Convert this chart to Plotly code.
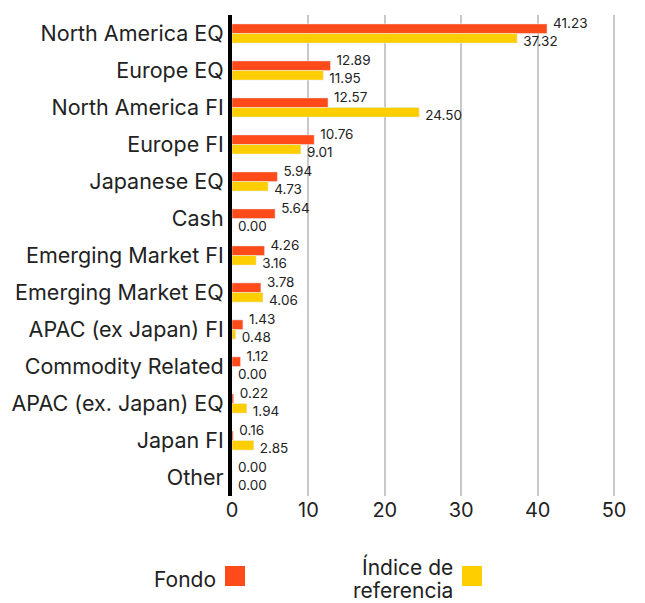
import plotly.graph_objects as go

categories = ["North America EQ", "Europe EQ", "North America FI", "Europe FI",
              "Japanese EQ", "Cash", "Emerging Market FI", "Emerging Market EQ",
              "APAC (ex Japan) FI", "Commodity Related", "APAC (ex. Japan) EQ",
              "Japan FI", "Other"]
fondo = [41.23, 12.89, 12.57, 10.76, 5.94, 5.64, 4.26, 3.78, 1.43, 1.12, 0.22, 0.16, 0.00]
indice = [37.32, 11.95, 24.50, 9.01, 4.73, 0.00, 3.16, 4.06, 0.48, 0.00, 1.94, 2.85, 0.00]
x_ticks = [0, 10, 20, 30, 40, 50]

ORANGE = "#FF4A1A"
YELLOW = "#FFCE00"
FONT = "Inter"
NB = "\u00a0"

fig = go.Figure()
fig.add_trace(go.Bar(y=categories, x=fondo, orientation="h", marker_color=ORANGE,
                     name="Fondo", showlegend=False))
fig.add_trace(go.Bar(y=categories, x=indice, orientation="h", marker_color=YELLOW,
                     name="Índice de referencia", showlegend=False))
fig.add_trace(go.Scatter(y=categories, x=fondo, mode="markers+text",
                         marker=dict(size=2, opacity=0),
                         text=[NB + f"{v:.2f}" for v in fondo], textposition="top right",
                         textfont=dict(family=FONT, size=13.5, color="#222"),
                         showlegend=False, hoverinfo="skip", cliponaxis=False))
fig.add_trace(go.Scatter(y=categories, x=indice, mode="markers+text",
                         marker=dict(size=2, opacity=0),
                         text=[NB + f"{v:.2f}" for v in indice], textposition="bottom right",
                         textfont=dict(family=FONT, size=13.5, color="#222"),
                         showlegend=False, hoverinfo="skip", cliponaxis=False))

fig.update_layout(
    width=645, height=603,
    margin=dict(l=224, r=16, t=7, b=115),
    barmode="group", bargap=0.48, bargroupgap=0,
    plot_bgcolor="white", paper_bgcolor="white",
    font=dict(family=FONT, color="#222"),
    xaxis=dict(range=[0, 53], tickvals=x_ticks, showgrid=True, gridcolor="#C8C8C8",
               gridwidth=2, zeroline=False, tickfont=dict(size=20, color="#222"),
               ticks="", ticklen=0, showline=False, automargin=False),
    yaxis=dict(categoryorder="array", categoryarray=categories,
               range=[len(categories) - 0.5, -0.5],
               showline=True, linecolor="black", linewidth=4, ticks="", ticklen=0,
               tickfont=dict(size=21.5, color="#222"), ticklabelstandoff=0,
               automargin=False),
)

# Legend drawn manually (text left of swatch)
LEG = dict(size=21, color="#222", family=FONT)
fig.add_annotation(xref="paper", yref="paper", x=-0.0346, y=-0.1726, xanchor="right",
                   yanchor="middle", text="Fondo", showarrow=False, font=LEG)
fig.add_shape(type="rect", xref="paper", yref="paper", x0=-0.0173, x1=0.0321,
              y0=-0.1455, y1=-0.1871, fillcolor=ORANGE, line_width=0)
fig.add_annotation(xref="paper", yref="paper", x=0.5506, y=-0.1466, xanchor="right",
                   yanchor="middle", text="Índice de", showarrow=False, font=LEG)
fig.add_annotation(xref="paper", yref="paper", x=0.5506, y=-0.1964, xanchor="right",
                   yanchor="middle", text="referencia", showarrow=False, font=LEG)
fig.add_shape(type="rect", xref="paper", yref="paper", x0=0.5679, x1=0.6173,
              y0=-0.1455, y1=-0.1871, fillcolor=YELLOW, line_width=0)

fig.write_html("out.html")
